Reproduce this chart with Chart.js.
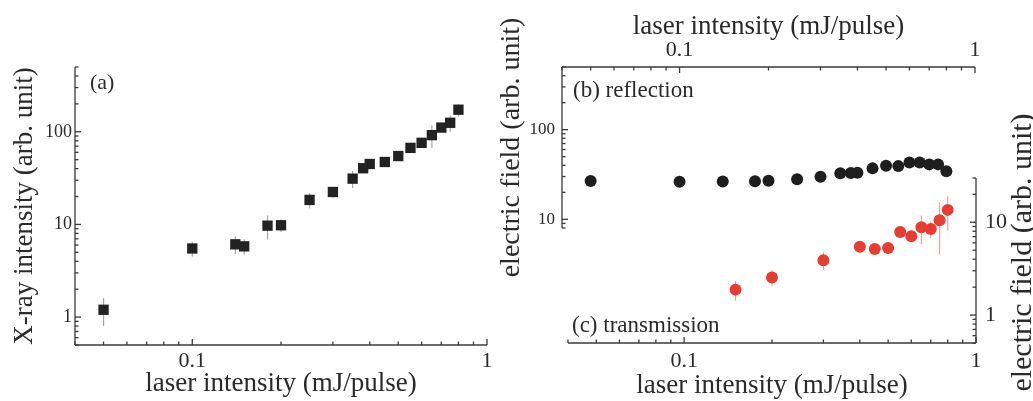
<!DOCTYPE html>
<html>
<head>
<meta charset="utf-8">
<script src="https://cdn.jsdelivr.net/npm/chart.js@4.4.1/dist/chart.umd.min.js"></script>
<style>
    html, body { margin: 0; padding: 0; background: #fff; }
    #figure { position: relative; width: 1033px; height: 401px; }
    #figure canvas { position: absolute; left: 0; top: 0; }
</style>
</head>
<body>
<div id="figure">
    <canvas id="xrayChart" width="1033" height="401"></canvas>
    <canvas id="transmissionChart" width="1033" height="401"></canvas>
    <canvas id="reflectionChart" width="1033" height="401"></canvas>
</div>
<script>
// (a) X-ray yield
const laserA = [0.05, 0.1, 0.14, 0.15, 0.18, 0.2, 0.25, 0.3, 0.35, 0.38, 0.4, 0.45, 0.5, 0.55, 0.6, 0.65, 0.7, 0.75, 0.8];
const xrayA = [1.2, 5.5, 6.1, 5.8, 9.7, 9.8, 18.4, 22.4, 31.2, 40.4, 44.9, 47.2, 54.7, 67, 76, 92, 111, 125, 173];
const xrayErr = [0.4, 1.0, 1.3, 1.1, 2.8, 1.5, 3.5, 3, 6.5, 4, 4, 5, 5, 7, 6, 25, 12, 25, 27];

// (b) reflection
const laserB = [0.05, 0.1, 0.14, 0.18, 0.2, 0.25, 0.3, 0.35, 0.38, 0.4, 0.45, 0.5, 0.55, 0.6, 0.65, 0.7, 0.75, 0.8];
const reflB = [26.8, 26.2, 26.4, 26.6, 27, 28, 29.9, 32.6, 32.8, 33, 37, 39.5, 39.2, 43, 43, 41, 41, 34.3];

// (c) transmission
const laserC = [0.15, 0.2, 0.3, 0.4, 0.45, 0.5, 0.55, 0.6, 0.65, 0.7, 0.75, 0.8];
const transC = [1.88, 2.54, 3.9, 5.44, 5.14, 5.27, 7.85, 7.05, 8.83, 8.46, 10.5, 13.6];
const transErr = [0.45, 0.5, 0.85, 0.4, 0.4, 0.4, 0.5, 0.8, 3, 1.7, 6, 5.5];

// tick labels
const laserTicks = [0.1, 1];
const xrayTicks = [1, 10, 100];
const reflTicks = [10, 100];
const transTicks = [1, 10];

const SERIF = '"Liberation Serif", "DejaVu Serif", serif';
const INK = '#2a2a2a';
const X_TITLE = 'laser intensity (mJ/pulse)';
const E_TITLE = 'electric field (arb. unit)';

const toPoints = (xs, ys) => xs.map((x, i) => ({ x, y: ys[i] }));

// vertical error bars, drawn under the markers
const errorBars = {
    id: 'errorBars',
    beforeDatasetsDraw(chart) {
        const { ctx } = chart;
        chart.data.datasets.forEach((ds, i) => {
            if (!ds.errors) {
                return;
            }
            const meta = chart.getDatasetMeta(i);
            const xs = chart.scales[meta.xAxisID];
            const ys = chart.scales[meta.yAxisID];
            ctx.save();
            ctx.strokeStyle = ds.errorColor;
            ctx.lineWidth = 1.2;
            ds.data.forEach((pt, j) => {
                const err = ds.errors[j];
                const x = xs.getPixelForValue(pt.x);
                ctx.beginPath();
                ctx.moveTo(x, ys.getPixelForValue(Math.max(pt.y - err, ys.min)));
                ctx.lineTo(x, ys.getPixelForValue(Math.min(pt.y + err, ys.max)));
                ctx.stroke();
            });
            ctx.restore();
        });
    }
};

// axis lines with inward log ticks (major at decades, minor in between)
const frameLines = {
    id: 'frameLines',
    afterDraw(chart, args, opts) {
        const { ctx, chartArea } = chart;
        const line = (a, b, c, d) => {
            ctx.beginPath();
            ctx.moveTo(a, b);
            ctx.lineTo(c, d);
            ctx.stroke();
        };
        ctx.save();
        ctx.strokeStyle = '#3a3a3a';
        ctx.lineWidth = 1.3;
        (opts.axes || []).forEach((axis) => {
            const scale = chart.scales[axis.id];
            const lo = axis.from ?? scale.min;
            const hi = axis.to ?? scale.max;
            const pos = scale.position;
            const edge = chartArea[pos];
            const inward = (pos === 'top' || pos === 'left') ? 1 : -1;
            const horiz = scale.isHorizontal();
            const p0 = scale.getPixelForValue(lo);
            const p1 = scale.getPixelForValue(hi);
            if (horiz) {
                line(p0, edge, p1, edge);
            } else {
                line(edge, p0, edge, p1);
            }
            for (let e = Math.floor(Math.log10(lo)); e <= Math.ceil(Math.log10(hi)); e++) {
                for (let k = 1; k < 10; k++) {
                    const v = k * Math.pow(10, e);
                    if (v < lo * 0.999 || v > hi * 1.001) {
                        continue;
                    }
                    const len = (k === 1 ? 6 : 3.5) * inward;
                    const p = scale.getPixelForValue(v);
                    if (horiz) {
                        line(p, edge, p, edge + len);
                    } else {
                        line(edge, p, edge + len, p);
                    }
                }
            }
        });
        ctx.restore();
    }
};

// panel tags and the right-hand axis title (reads bottom to top)
const panelNotes = {
    id: 'panelNotes',
    afterDraw(chart, args, opts) {
        const { ctx, chartArea } = chart;
        ctx.save();
        ctx.fillStyle = INK;
        ctx.textBaseline = 'middle';
        (opts.notes || []).forEach((n) => {
            ctx.font = `${n.size}px ${SERIF}`;
            const y = n.fromBottom ? chartArea.bottom - n.dy : chartArea.top + n.dy;
            ctx.fillText(n.text, chartArea.left + n.dx, y);
        });
        if (opts.sideTitle) {
            const s = chart.scales[opts.sideTitle.id];
            ctx.font = `${opts.sideTitle.size}px ${SERIF}`;
            ctx.textAlign = 'center';
            ctx.translate(s.right - opts.sideTitle.inset, (s.top + s.bottom) / 2 + opts.sideTitle.shift);
            ctx.rotate(-Math.PI / 2);
            ctx.fillText(opts.sideTitle.text, 0, 0);
        }
        ctx.restore();
    }
};

function logAxis({ position, min, max, ticks, tickSize, tickPad, size, title }) {
    const horiz = position === 'top' || position === 'bottom';
    return {
        type: 'logarithmic',
        position,
        min,
        max,
        grid: { display: false, drawTicks: false },
        border: { display: false },
        afterBuildTicks: (scale) => {
            scale.ticks = ticks.map((value) => ({ value, major: true }));
        },
        afterFit: (scale) => {
            if (horiz) {
                scale.height = size;
            } else {
                scale.width = size;
            }
        },
        ticks: {
            autoSkip: false,
            maxRotation: 0,
            padding: tickPad,
            color: INK,
            font: { family: SERIF, size: tickSize, lineHeight: 1 },
            callback: (value) => String(value)
        },
        title: title ? {
            display: true,
            text: title.text,
            color: INK,
            font: { family: SERIF, size: title.fontSize, lineHeight: 1 },
            padding: title.padding
        } : { display: false }
    };
}

const baseOptions = (padding) => ({
    responsive: false,
    animation: false,
    devicePixelRatio: 1,
    layout: { padding },
    events: []
});

const createChart = (canvasId, config) => {
    const canvas = document.getElementById(canvasId);
    if (!canvas) {
        return;
    }
    const context = canvas.getContext('2d');
    if (!context) {
        return;
    }
    return new Chart(context, config);
};

createChart('xrayChart', {
    type: 'scatter',
    data: {
        datasets: [{
            data: toPoints(laserA, xrayA),
            errors: xrayErr,
            errorColor: '#a8a8a8',
            pointStyle: 'rect',
            pointRadius: 7.3,
            backgroundColor: '#222222',
            borderWidth: 0
        }]
    },
    options: {
        ...baseOptions({ left: 0, top: 67, right: 546, bottom: 0 }),
        scales: {
            x: logAxis({
                position: 'bottom', min: 0.04, max: 1, ticks: laserTicks, tickSize: 22, tickPad: 5, size: 56,
                title: { text: X_TITLE, fontSize: 27, padding: { top: 0, bottom: 4 } }
            }),
            y: logAxis({
                position: 'left', min: 0.5, max: 500, ticks: xrayTicks, tickSize: 18, tickPad: 3, size: 75,
                title: { text: 'X-ray intensity (arb. unit)', fontSize: 27, padding: { top: 11, bottom: 0 } }
            })
        },
        plugins: {
            legend: { display: false },
            tooltip: { enabled: false },
            frameLines: { axes: [{ id: 'x' }, { id: 'y' }] },
            panelNotes: { notes: [{ text: '(a)', dx: 15, dy: 16, size: 22 }] }
        }
    },
    plugins: [errorBars, frameLines, panelNotes]
});

createChart('reflectionChart', {
    type: 'scatter',
    data: {
        datasets: [{
            data: toPoints(laserB, reflB),
            pointStyle: 'circle',
            pointRadius: 6,
            backgroundColor: '#1e1e1e',
            borderWidth: 0
        }]
    },
    options: {
        ...baseOptions({ left: 490, top: 0, right: 58, bottom: 173 }),
        scales: {
            x: logAxis({
                position: 'top', min: 0.04, max: 1, ticks: laserTicks, tickSize: 22, tickPad: 6, size: 67,
                title: { text: X_TITLE, fontSize: 27, padding: { top: 13, bottom: 0 } }
            }),
            y: logAxis({
                position: 'left', min: 8, max: 500, ticks: reflTicks, tickSize: 17, tickPad: 7, size: 72,
                title: { text: E_TITLE, fontSize: 28, padding: { top: 8, bottom: 0 } }
            })
        },
        plugins: {
            legend: { display: false },
            tooltip: { enabled: false },
            frameLines: { axes: [{ id: 'x' }, { id: 'y' }] },
            panelNotes: { notes: [{ text: '(b) reflection', dx: 11, dy: 24, size: 23 }] }
        }
    },
    plugins: [frameLines, panelNotes]
});

createChart('transmissionChart', {
    type: 'scatter',
    data: {
        datasets: [{
            data: toPoints(laserC, transC),
            errors: transErr,
            errorColor: '#f3a19b',
            pointStyle: 'circle',
            pointRadius: 6,
            backgroundColor: '#e63d33',
            borderWidth: 0
        }]
    },
    options: {
        ...baseOptions({ left: 568, top: 178, right: 0, bottom: 0 }),
        scales: {
            x: logAxis({
                position: 'bottom', min: 0.04, max: 1, ticks: laserTicks, tickSize: 22, tickPad: 7, size: 58,
                title: { text: X_TITLE, fontSize: 27, padding: { top: 0, bottom: 2 } }
            }),
            y: logAxis({
                position: 'right', min: 0.5, max: 30, ticks: transTicks, tickSize: 22, tickPad: 9, size: 57
            })
        },
        plugins: {
            legend: { display: false },
            tooltip: { enabled: false },
            frameLines: { axes: [{ id: 'x' }, { id: 'y' }] },
            panelNotes: {
                notes: [{ text: '(c) transmission', dx: 4, dy: 17, size: 23, fromBottom: true }],
                sideTitle: { id: 'y', text: E_TITLE, size: 30, inset: 10, shift: -8 }
            }
        }
    },
    plugins: [errorBars, frameLines, panelNotes]
});
</script>
</body>
</html>
